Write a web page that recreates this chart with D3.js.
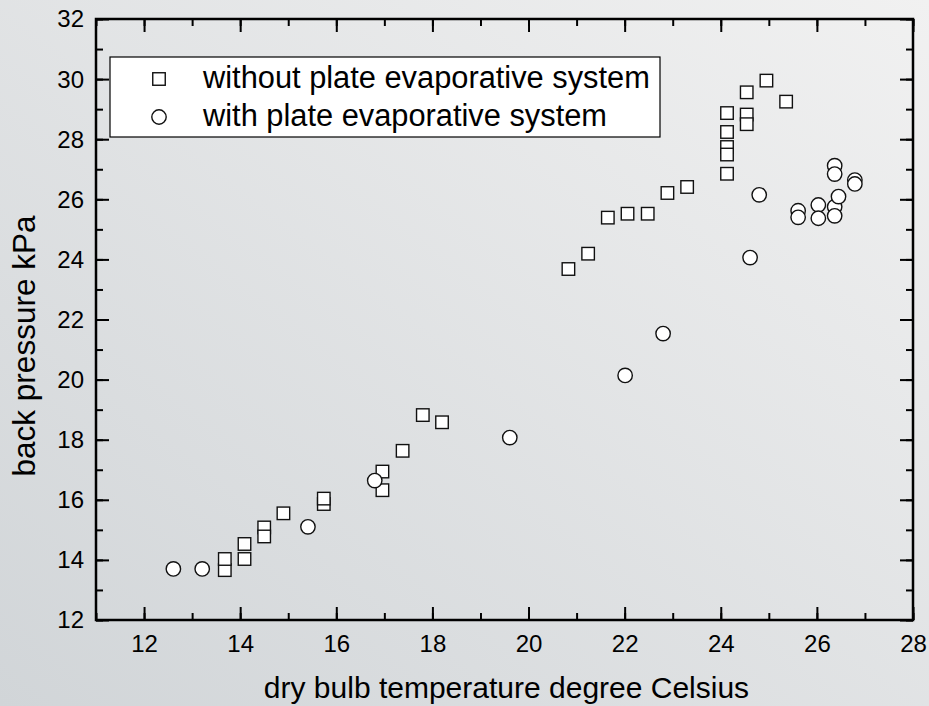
<!DOCTYPE html>
<html>
<head>
<meta charset="utf-8">
<script src="https://cdn.jsdelivr.net/npm/d3@7"></script>
<style>
  body { margin: 0; }
  svg { display: block; font-family: "Liberation Sans", Arial, sans-serif; }
</style>
</head>
<body>
<svg id="chart" width="929" height="706"></svg>
<script>
// series: dry bulb temperature (deg C) / back pressure (kPa)
var withoutX = [13.68, 13.68, 14.09, 14.09, 14.50, 14.50, 14.90, 15.74, 15.74, 16.96, 16.96, 17.38, 17.80, 18.20,
                20.83, 21.24, 21.65, 22.06, 22.48, 22.89, 23.30,
                24.13, 24.13, 24.13, 24.13, 24.13, 24.54, 24.54, 24.54, 24.95, 25.36];
var withoutY = [13.66, 14.03, 14.53, 14.03, 15.08, 14.78, 15.55, 15.86, 16.04, 16.94, 16.32, 17.63, 18.82, 18.58,
                23.68, 24.19, 25.39, 25.52, 25.52, 26.21, 26.41,
                28.87, 28.24, 27.74, 27.49, 26.85, 29.56, 28.82, 28.50, 29.95, 29.25];

var withX = [12.61, 13.21, 15.41, 16.80, 19.61, 22.01, 22.80, 24.61, 24.80,
             25.61, 25.61, 26.03, 26.03, 26.37, 26.37, 26.37, 26.37, 26.45, 26.79, 26.79];
var withY = [13.70, 13.70, 15.10, 16.64, 18.07, 20.14, 21.53, 24.06, 26.15,
             25.62, 25.40, 25.81, 25.37, 27.12, 26.84, 25.75, 25.45, 26.09, 26.64, 26.51];

var xTicks = [12, 14, 16, 18, 20, 22, 24, 26, 28];
var yTicks = [12, 14, 16, 18, 20, 22, 24, 26, 28, 30, 32];
var legendLabels = ["without plate evaporative system", "with plate evaporative system"];

var svg = d3.select("#chart");

var grad = svg.append("defs").append("linearGradient")
    .attr("id", "bg")
    .attr("x1", "0").attr("y1", "1").attr("x2", "1").attr("y2", "0");
grad.append("stop").attr("offset", "0").attr("stop-color", "#d1d5d8");
grad.append("stop").attr("offset", "1").attr("stop-color", "#f1f1f1");

svg.append("rect").attr("width", 929).attr("height", 706).attr("fill", "url(#bg)");

var pLeft = 96, pRight = 913, pTop = 19, pBottom = 620;

var x = d3.scaleLinear().domain([11, 28]).range([pLeft, pRight]);
var y = d3.scaleLinear().domain([12, 32]).range([pBottom, pTop]);

var xMinor = d3.range(11, 28.01, 1);
var yMinor = d3.range(12, 32.01, 1);

function styleAxis(g) {
    g.select(".domain").remove();
    g.selectAll(".tick line").attr("stroke", "#000").attr("stroke-width", 2);
    g.selectAll(".tick text").attr("fill", "#000").attr("font-size", "24px")
        .attr("font-family", "Liberation Sans, Arial, sans-serif");
}

// minor ticks (inward, short)
svg.append("g").attr("transform", "translate(0," + pBottom + ")")
    .call(d3.axisBottom(x).tickValues(xMinor).tickSize(-7).tickFormat(""))
    .call(styleAxis);
svg.append("g").attr("transform", "translate(0," + pTop + ")")
    .call(d3.axisTop(x).tickValues(xMinor).tickSize(-7).tickFormat(""))
    .call(styleAxis);
svg.append("g").attr("transform", "translate(" + pLeft + ",0)")
    .call(d3.axisLeft(y).tickValues(yMinor).tickSize(-7).tickFormat(""))
    .call(styleAxis);
svg.append("g").attr("transform", "translate(" + pRight + ",0)")
    .call(d3.axisRight(y).tickValues(yMinor).tickSize(-7).tickFormat(""))
    .call(styleAxis);

// major ticks with labels
svg.append("g").attr("transform", "translate(0," + pBottom + ")")
    .call(d3.axisBottom(x).tickValues(xTicks).tickSize(-13).tickFormat(d3.format("d")))
    .call(styleAxis)
    .call(g => g.selectAll(".tick text").attr("y", 32).attr("dy", 0));
svg.append("g").attr("transform", "translate(0," + pTop + ")")
    .call(d3.axisTop(x).tickValues(xTicks).tickSize(-13).tickFormat(""))
    .call(styleAxis);
svg.append("g").attr("transform", "translate(" + pLeft + ",0)")
    .call(d3.axisLeft(y).tickValues(yTicks).tickSize(-13).tickFormat(d3.format("d")))
    .call(styleAxis)
    .call(g => g.selectAll(".tick text").attr("x", -12).attr("dy", "0.33em"));
svg.append("g").attr("transform", "translate(" + pRight + ",0)")
    .call(d3.axisRight(y).tickValues(yTicks).tickSize(-13).tickFormat(""))
    .call(styleAxis);

// frame
svg.append("rect")
    .attr("x", pLeft).attr("y", pTop)
    .attr("width", pRight - pLeft).attr("height", pBottom - pTop)
    .attr("fill", "none").attr("stroke", "#000").attr("stroke-width", 2.5);

// axis titles
svg.append("text")
    .attr("x", (pLeft + pRight) / 2 + 2).attr("y", 698)
    .attr("text-anchor", "middle").attr("font-size", "30px").attr("fill", "#000")
    .text("dry bulb temperature degree Celsius");

svg.append("text")
    .attr("transform", "translate(35,346) rotate(-90)")
    .attr("text-anchor", "middle").attr("font-size", "31.5px").attr("fill", "#000")
    .text("back pressure kPa");

// markers
var sq = 12.5;
svg.append("g").selectAll("rect")
    .data(withoutX.map((d, i) => [d, withoutY[i]]))
    .enter().append("rect")
    .attr("x", d => x(d[0]) - sq / 2)
    .attr("y", d => y(d[1]) - sq / 2)
    .attr("width", sq).attr("height", sq)
    .attr("fill", "#fff").attr("stroke", "#111").attr("stroke-width", 1.4);

svg.append("g").selectAll("circle")
    .data(withX.map((d, i) => [d, withY[i]]))
    .enter().append("circle")
    .attr("cx", d => x(d[0]))
    .attr("cy", d => y(d[1]))
    .attr("r", 7.2)
    .attr("fill", "#fff").attr("stroke", "#111").attr("stroke-width", 1.4);

// legend
var legend = svg.append("g");
legend.append("rect")
    .attr("x", 110).attr("y", 57).attr("width", 550).attr("height", 80)
    .attr("fill", "#fff").attr("stroke", "#000").attr("stroke-width", 1.2);
legend.append("rect")
    .attr("x", 159 - sq / 2).attr("y", 79 - sq / 2).attr("width", sq).attr("height", sq)
    .attr("fill", "#fff").attr("stroke", "#111").attr("stroke-width", 1.4);
legend.append("circle")
    .attr("cx", 159).attr("cy", 117).attr("r", 7.2)
    .attr("fill", "#fff").attr("stroke", "#111").attr("stroke-width", 1.4);
legend.selectAll("text.lab")
    .data(legendLabels)
    .enter().append("text")
    .attr("class", "lab")
    .attr("x", 203)
    .attr("y", (d, i) => 88 + i * 38)
    .attr("font-size", "30.8px").attr("fill", "#000")
    .text(d => d);
</script>
</body>
</html>
